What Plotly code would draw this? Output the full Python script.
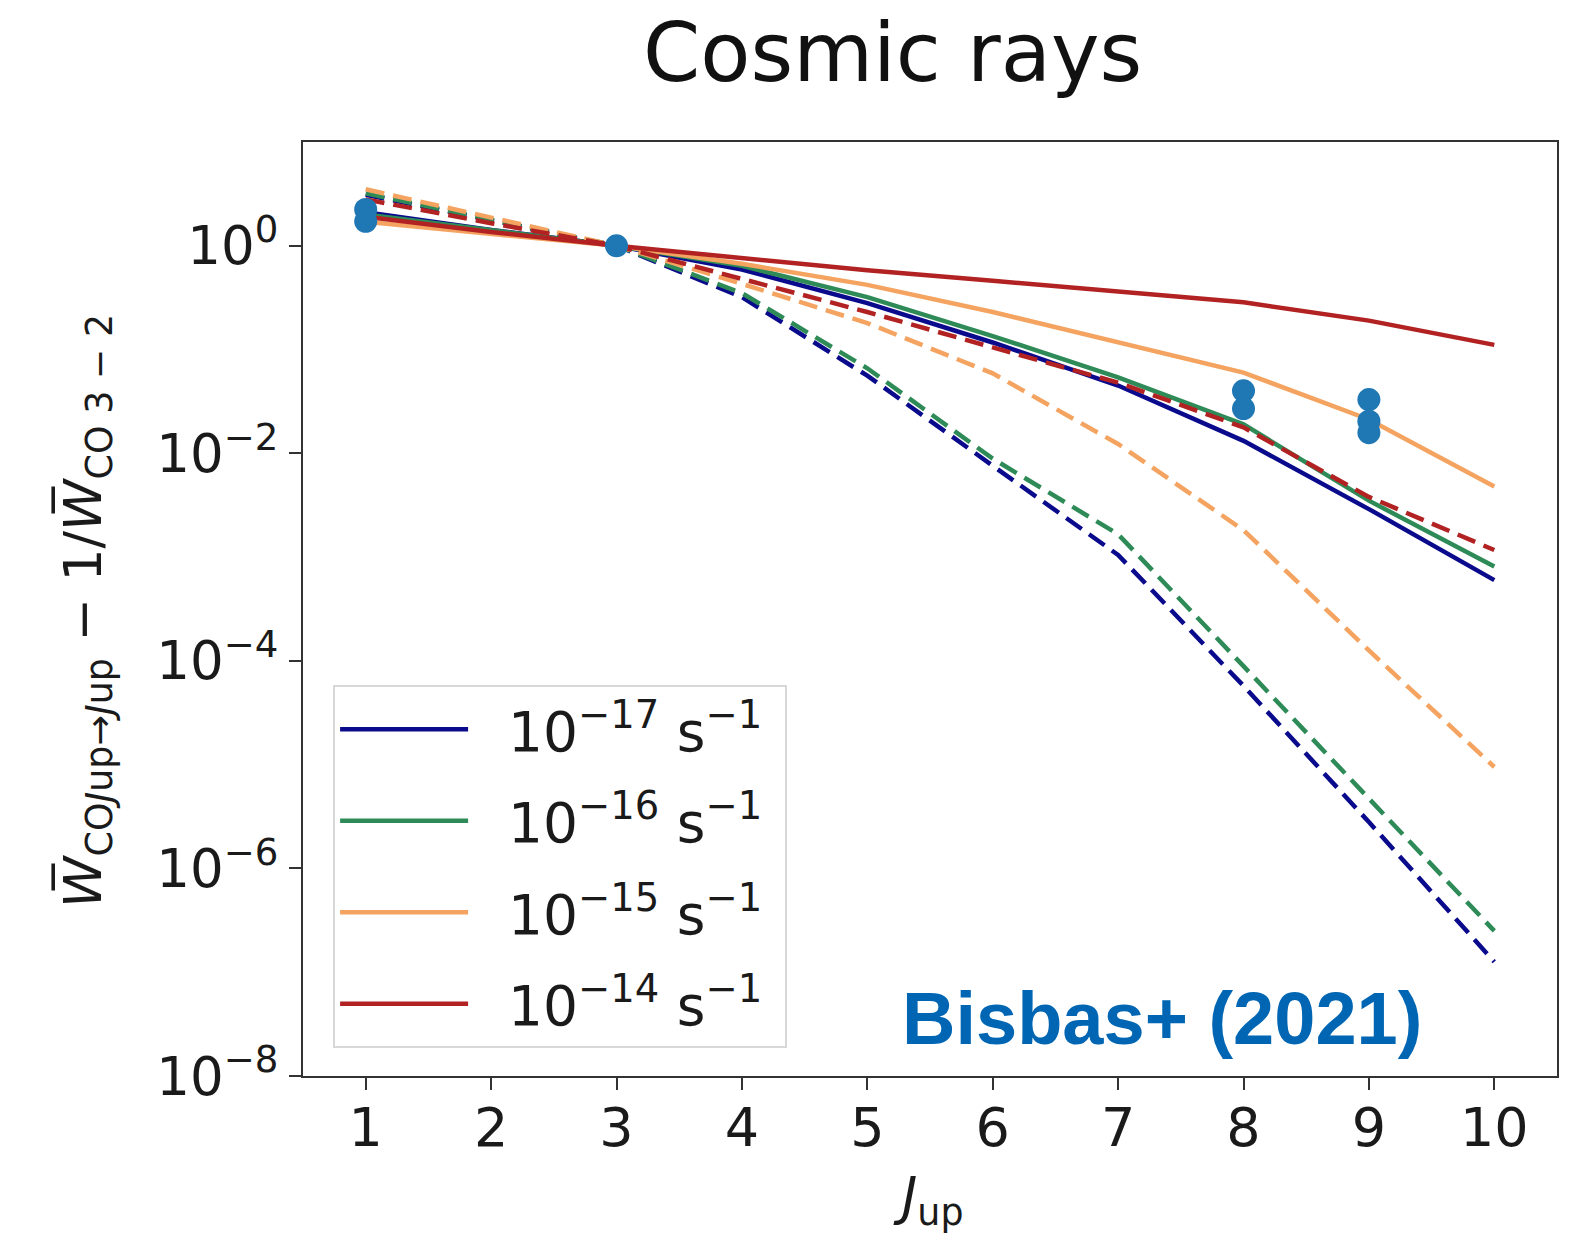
import plotly.graph_objects as go

J = [1, 2, 3, 4, 5, 6, 7, 8, 9, 10]
rates = ["1e-17", "1e-16", "1e-15", "1e-14"]
legend_labels = ["10<sup>−17</sup> s<sup>−1</sup>", "10<sup>−16</sup> s<sup>−1</sup>",
                 "10<sup>−15</sup> s<sup>−1</sup>", "10<sup>−14</sup> s<sup>−1</sup>"]
colors = ["#0a0a8c", "#2e8b57", "#f4a460", "#b22222"]

# solid lines
solid_1e17 = [2.10, 1.42, 1.0, 0.59, 0.28, 0.117, 0.045, 0.0132, 0.0029, 0.00060]
solid_1e16 = [2.00, 1.40, 1.0, 0.64, 0.32, 0.135, 0.054, 0.019, 0.0035, 0.00081]
solid_1e15 = [1.70, 1.30, 1.0, 0.67, 0.42, 0.23, 0.117, 0.060, 0.0212, 0.0048]
solid_1e14 = [1.90, 1.36, 1.0, 0.76, 0.58, 0.46, 0.36, 0.285, 0.19, 0.111]
# dashed lines
dashed_1e17 = [3.10, 1.75, 1.0, 0.32, 0.056, 0.0076, 0.00105, 0.0000575, 0.0000028, 0.000000126]
dashed_1e16 = [3.20, 1.78, 1.0, 0.35, 0.066, 0.0089, 0.00166, 0.0000890, 0.0000048, 0.000000250]
dashed_1e15 = [3.50, 1.85, 1.0, 0.43, 0.18, 0.059, 0.0123, 0.00182, 0.000126, 0.0000095]
dashed_1e14 = [2.80, 1.65, 1.0, 0.48, 0.23, 0.105, 0.048, 0.0178, 0.0038, 0.00117]

obs_J = [1, 1, 3, 8, 8, 9, 9, 9]
obs_W = [2.24, 1.72, 1.0, 0.040, 0.027, 0.033, 0.0204, 0.0158]

y_tickvals = [1, 1e-2, 1e-4, 1e-6, 1e-8]
y_ticktext = ["10<sup>0</sup>", "10<sup>−2</sup>", "10<sup>−4</sup>", "10<sup>−6</sup>", "10<sup>−8</sup>"]

solids = [solid_1e17, solid_1e16, solid_1e15, solid_1e14]
dasheds = [dashed_1e17, dashed_1e16, dashed_1e15, dashed_1e14]

NB = "\u00a0"
fig = go.Figure()
for i in range(4):
    fig.add_trace(go.Scatter(x=J, y=solids[i], mode="lines",
                             name=NB * 2 + legend_labels[i] + NB,
                             legendgroup="g%d" % i,
                             line=dict(color=colors[i], width=4.5), showlegend=True))
    fig.add_trace(go.Scatter(x=J, y=dasheds[i], mode="lines", name=legend_labels[i] + " (dashed)",
                             legendgroup="g%d" % i,
                             line=dict(color=colors[i], width=4.5, dash="19px,9px"), showlegend=False))
fig.add_trace(go.Scatter(x=obs_J, y=obs_W, mode="markers", name="Bisbas+ (2021)",
                         marker=dict(color="#1f77b4", size=23), showlegend=False))

font_main = "DejaVu Sans"
fig.update_layout(
    width=1583, height=1244,
    margin=dict(l=303, r=26, t=142, b=168),
    plot_bgcolor="white", paper_bgcolor="white",
    font=dict(family=font_main, color="#1a1a1a", size=52),
    showlegend=True,
    legend=dict(x=0.024, y=0.03, xanchor="left", yanchor="bottom",
                bgcolor="white", bordercolor="#d8d8d8", borderwidth=2,
                font=dict(family=font_main, size=55, color="#1a1a1a"),
                itemwidth=128, tracegroupgap=17),
    xaxis=dict(range=[0.5, 10.5], tickvals=J, ticktext=[str(v) for v in J],
               showgrid=False, zeroline=False, showline=True, mirror=True,
               linecolor="#333333", linewidth=2, ticks="outside", ticklen=12,
               tickwidth=2, tickcolor="#333333", tickfont=dict(size=54),
               ticklabelstandoff=-9),
    yaxis=dict(type="log", range=[-8, 1], tickvals=y_tickvals, ticktext=y_ticktext,
               showgrid=False, zeroline=False, showline=True, mirror=True,
               linecolor="#333333", linewidth=2, ticks="outside", ticklen=12,
               tickwidth=2, tickcolor="#333333", tickfont=dict(size=53)),
    annotations=[
        dict(text="Cosmic rays", x=0.47, y=1.096, xref="paper", yref="paper",
             showarrow=False, xanchor="center", yanchor="middle",
             font=dict(family=font_main, size=82, color="#111111")),
        dict(text="<i>J</i><sub>up</sub>", x=0.499, y=-0.133, xref="paper", yref="paper",
             showarrow=False, xanchor="center", yanchor="middle",
             font=dict(family=font_main, size=52, color="#1a1a1a")),
        dict(text="<i>W̅</i><sub>CO<i>J</i>up→<i>J</i>up</sub> − 1/<i>W̅</i><sub>CO 3 − 2</sub>",
             x=-0.173, y=0.498, xref="paper", yref="paper", textangle=-90,
             showarrow=False, xanchor="center", yanchor="middle",
             font=dict(family=font_main, size=52, color="#1a1a1a")),
        dict(text="<b>Bisbas+ (2021)</b>", x=0.685, y=0.062, xref="paper", yref="paper",
             showarrow=False, xanchor="center", yanchor="middle",
             font=dict(family="Liberation Sans", size=74, color="#0066b3")),
    ],
)

fig.write_html("out.html")
